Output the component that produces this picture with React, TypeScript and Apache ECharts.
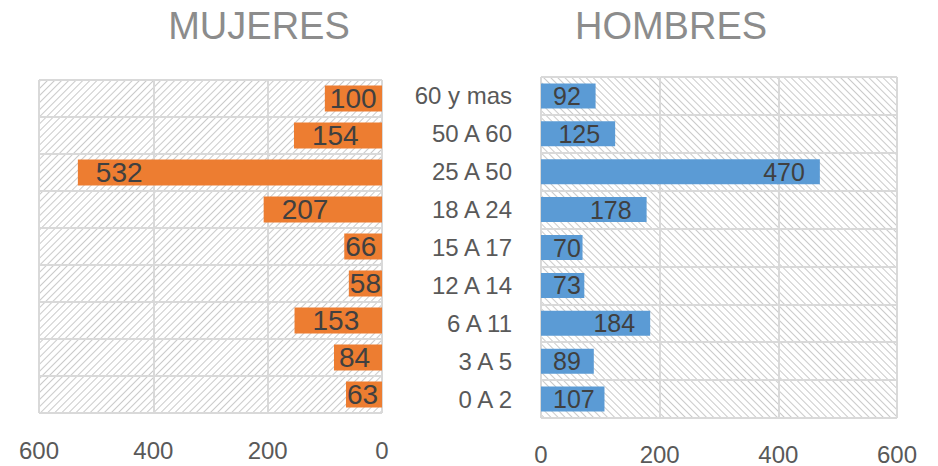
import React, { useEffect, useRef } from 'react';
import * as echarts from 'echarts';

const categories = ['0 A 2', '3 A 5', '6 A 11', '12 A 14', '15 A 17', '18 A 24', '25 A 50', '50 A 60', '60 y mas'];
const mujeres = [63, 84, 153, 58, 66, 207, 532, 154, 100];
const hombres = [107, 89, 184, 73, 70, 178, 470, 125, 92];
const titles = ['MUJERES', 'HOMBRES'];
const axisMin = 0;
const axisMax = 600;
const axisInterval = 200;

const FONT = 'Liberation Sans, Arial, sans-serif';
const GRID_LINE = '#d9d9d9';
const TEXT_GRAY = '#595959';

export default function App() {
  const ref = useRef<HTMLDivElement>(null);

  useEffect(() => {
    if (!ref.current) return;
    const chart = echarts.init(ref.current, undefined, { renderer: 'svg' });

    const hatch = (rotation: number) => ({
      symbol: 'rect',
      symbolSize: 1,
      dashArrayX: [1, 0],
      dashArrayY: [1, 4],
      rotation,
      color: '#cacaca',
    });

    const valueAxis = (gridIndex: number, inverse: boolean, margin: number) => ({
      type: 'value',
      gridIndex,
      inverse,
      min: axisMin,
      max: axisMax,
      interval: axisInterval,
      axisLine: { show: false },
      axisTick: { show: false },
      splitLine: { show: true, lineStyle: { color: GRID_LINE, width: 2 } },
      axisLabel: { margin, fontSize: 24, color: TEXT_GRAY, fontFamily: FONT },
    });

    const catAxis = (gridIndex: number, showLabels: boolean, visible: boolean) => ({
      type: 'category',
      gridIndex,
      data: categories,
      show: visible,
      axisLine: { show: false },
      axisTick: { show: false },
      splitLine: { show: visible, lineStyle: { color: GRID_LINE, width: 2 } },
      axisLabel: {
        show: showLabels,
        margin: 29,
        fontSize: 24,
        color: TEXT_GRAY,
        fontFamily: FONT,
      },
    });

    const bgValues = categories.map(() => axisMax);

    chart.setOption({
      animation: false,
      backgroundColor: '#ffffff',
      graphic: [
        {
          type: 'text',
          x: 259,
          y: 26,
          style: {
            text: titles[0],
            fill: '#8c8c8c',
            font: `38px ${FONT}`,
            textAlign: 'center',
            textVerticalAlign: 'middle',
          },
        },
        {
          type: 'text',
          x: 671,
          y: 26,
          style: {
            text: titles[1],
            fill: '#8c8c8c',
            font: `38px ${FONT}`,
            textAlign: 'center',
            textVerticalAlign: 'middle',
          },
        },
      ],
      grid: [
        { left: 39, top: 80, width: 343, height: 333, containLabel: false },
        { left: 541, top: 77, width: 356, height: 342, containLabel: false },
      ],
      xAxis: [valueAxis(0, true, 25), valueAxis(1, false, 24)],
      yAxis: [
        catAxis(0, false, true),
        catAxis(0, false, false),
        catAxis(1, true, true),
        catAxis(1, false, false),
      ],
      series: [
        {
          type: 'bar',
          name: 'bgM',
          xAxisIndex: 0,
          yAxisIndex: 1,
          data: bgValues,
          barWidth: '100%',
          silent: true,
          z: -1,
          itemStyle: { color: '#ffffff', decal: hatch(-Math.PI / 4) },
          label: { show: false },
        },
        {
          type: 'bar',
          name: 'bgH',
          xAxisIndex: 1,
          yAxisIndex: 3,
          data: bgValues,
          barWidth: '100%',
          silent: true,
          z: -1,
          itemStyle: { color: '#ffffff', decal: hatch(Math.PI / 4) },
          label: { show: false },
        },
        {
          type: 'bar',
          name: titles[0],
          xAxisIndex: 0,
          yAxisIndex: 0,
          barWidth: '70%',
          itemStyle: { color: '#ED7D31' },
          label: {
            show: true,
            position: 'insideLeft',
            color: '#404040',
            fontSize: 28,
            fontFamily: FONT,
          },
          data: mujeres.map((v) => ({ value: v, label: { distance: v >= 150 ? 18 : v >= 80 ? 5 : 1 } })),
        },
        {
          type: 'bar',
          name: titles[1],
          xAxisIndex: 1,
          yAxisIndex: 2,
          barWidth: '66%',
          itemStyle: { color: '#5B9BD5' },
          label: {
            show: true,
            color: '#404040',
            fontSize: 25,
            fontFamily: FONT,
          },
          data: hombres.map((v) => ({
            value: v,
            label: v >= 120 ? { position: 'insideRight', distance: 15 } : { position: 'insideLeft', distance: 12 },
          })),
        },
      ],
    });

    return () => chart.dispose();
  }, []);

  return (
    <div
      ref={ref}
      style={{ position: 'absolute', left: 0, top: 0, width: 938, height: 466 }}
    />
  );
}
